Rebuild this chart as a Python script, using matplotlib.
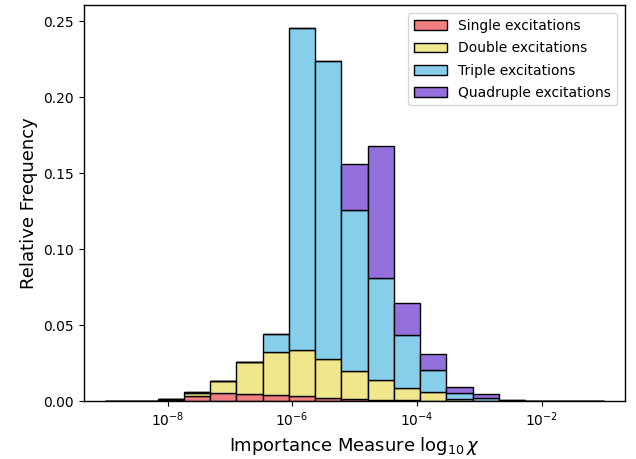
import numpy as np
import matplotlib
matplotlib.use('Agg')
import matplotlib.pyplot as plt
from matplotlib.ticker import NullLocator

# log10 bin edges, 19 bins between 1e-9 and 1e-1
edges = np.logspace(-9, -1, 20)

labels = ['Single excitations', 'Double excitations',
          'Triple excitations', 'Quadruple excitations']
colors = ['lightcoral', 'khaki', 'skyblue', 'mediumpurple']

# relative frequency per bin
single = [0.0002, 0.0003, 0.0008, 0.0035, 0.0051, 0.0047, 0.0038, 0.0033, 0.0020, 0.0013,
          0.0009, 0.0008, 0.0004, 0.0003, 0.0001, 0.0001, 0.0, 0.0, 0.0]
double = [0.0001, 0.0001, 0.0003, 0.0020, 0.0079, 0.0211, 0.0288, 0.0301, 0.0256, 0.0184,
          0.0132, 0.0076, 0.0054, 0.0011, 0.0003, 0.0002, 0.0001, 0.0001, 0.0001]
triple = [0.0, 0.0, 0.0001, 0.0002, 0.0, 0.0, 0.0116, 0.2121, 0.1963, 0.1062,
          0.0671, 0.0348, 0.0149, 0.0040, 0.0018, 0.0003, 0.0001, 0.0001, 0.0002]
quadruple = [0.0, 0.0, 0.0, 0.0, 0.0, 0.0, 0.0, 0.0, 0.0, 0.0303,
             0.0868, 0.0211, 0.0106, 0.0039, 0.0022, 0.0002, 0.0, 0.0, 0.0001]

centers = np.sqrt(edges[:-1] * edges[1:])

fig = plt.figure(figsize=(6.36, 4.59), dpi=100)
ax = fig.add_axes([0.132, 0.126, 0.851, 0.863])

ax.hist([centers] * 4, bins=edges, weights=[single, double, triple, quadruple],
        stacked=True, color=colors, label=labels, edgecolor='black', linewidth=1.0)

ax.set_xscale('log')
ax.set_xlim(10 ** -9.34, 10 ** -0.66)
ax.set_ylim(0, 0.2605)
ax.set_xticks([1e-8, 1e-6, 1e-4, 1e-2])
ax.xaxis.set_minor_locator(NullLocator())
ax.set_yticks([0, 0.05, 0.10, 0.15, 0.20, 0.25])
ax.set_yticklabels(['0.00', '0.05', '0.10', '0.15', '0.20', '0.25'])
ax.tick_params(labelsize=10)
for s in ax.spines.values():
    s.set_linewidth(1.0)

ax.set_xlabel(r'Importance Measure $\log_{10}\chi$', fontsize=13)
ax.set_ylabel('Relative Frequency', fontsize=13)

leg = ax.legend(loc='upper right', fontsize=10, fancybox=True, framealpha=0.8,
                handlelength=2.4, labelspacing=0.6, borderaxespad=0.6)
leg.get_frame().set_edgecolor('0.8')
leg.get_frame().set_linewidth(1.0)

fig.savefig('out.png', dpi=100)
